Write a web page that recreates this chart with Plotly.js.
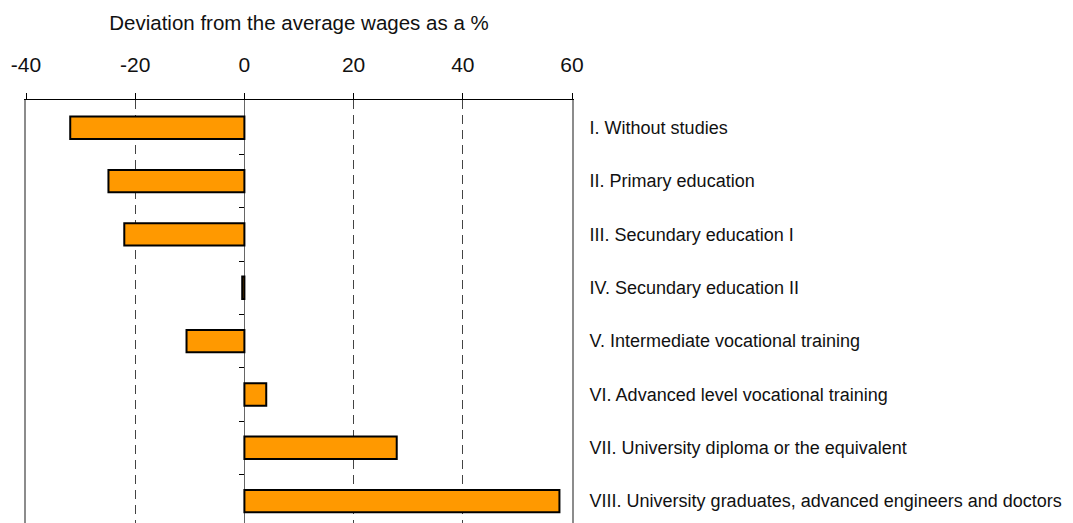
<!DOCTYPE html>
<html>
<head>
<meta charset="utf-8">
<script src="https://cdn.plot.ly/plotly-3.0.1.min.js"></script>
<style>html,body{margin:0;padding:0;background:#fff;}#chart{width:1073px;height:523px;}</style>
</head>
<body>
<div id="chart"></div>
<script>
const categories = [
  "I. Without studies",
  "II. Primary education",
  "III. Secundary education I",
  "IV. Secundary education II",
  "V. Intermediate vocational training",
  "VI. Advanced level vocational training",
  "VII. University diploma or the equivalent",
  "VIII. University graduates, advanced engineers and doctors"
];
const deviation = [-31.9, -24.9, -22.0, -0.4, -10.6, 4.0, 27.9, 57.7];
const xTicks = [-40, -20, 0, 20, 40, 60];
const axisTitle = "Deviation from the average wages as a %";

const trace = {
  type: "bar",
  orientation: "h",
  y: categories,
  x: deviation,
  width: 0.42,
  marker: {color: "#FF9900", line: {color: "#000000", width: 2}},
  hoverinfo: "x+y"
};
// invisible helper trace for the separator ticks on the zero line
const helper = {
  type: "scatter", mode: "none", x: [0], y: [0], yaxis: "y2", hoverinfo: "skip", showlegend: false
};

const layout = {
  width: 1073, height: 523,
  margin: {l: 26, r: 501, t: 100, b: 0, pad: 0},
  paper_bgcolor: "#ffffff", plot_bgcolor: "#ffffff",
  showlegend: false,
  font: {family: "Liberation Sans, Arial, sans-serif", color: "#111111"},
  xaxis: {
    side: "top",
    range: [-40, 60],
    tickvals: xTicks,
    ticktext: xTicks.map(String),
    ticks: "outside", ticklen: 6, tickwidth: 1, tickcolor: "#000000",
    ticklabelstandoff: 12,
    tickfont: {size: 21, color: "#111111"},
    showline: true, linecolor: "#000000", linewidth: 1.5,
    showgrid: true, griddash: "9px,6px", gridcolor: "#444444", gridwidth: 1,
    zeroline: true, zerolinecolor: "#666666", zerolinewidth: 1.5,
    title: {text: axisTitle, font: {size: 20.5, color: "#111111"}, standoff: 17},
    fixedrange: true
  },
  yaxis: {
    type: "category",
    side: "right",
    range: [7.41, -0.52],
    ticks: "", showgrid: false, zeroline: false,
    showline: true, mirror: true, linecolor: "#8c8c8c", linewidth: 2,
    ticklabelstandoff: 12,
    tickfont: {size: 18, color: "#111111"},
    fixedrange: true
  },
  yaxis2: {
    overlaying: "y",
    anchor: "free",
    position: 0.4,
    side: "left",
    range: [7.41, -0.52],
    tickvals: [0.5, 1.5, 2.5, 3.5, 4.5, 5.5, 6.5],
    ticks: "outside", ticklen: 5, tickwidth: 1, tickcolor: "#000000",
    showticklabels: false, showgrid: false, zeroline: false, showline: false,
    fixedrange: true
  }
};

Plotly.newPlot("chart", [trace, helper], layout, {displayModeBar: false, staticPlot: true});
</script>
</body>
</html>
